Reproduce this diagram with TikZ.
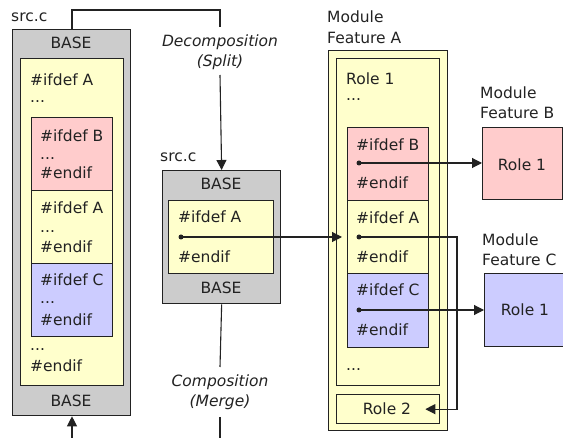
\documentclass[tikz,border=0pt]{standalone}
\usepackage{fontspec}
\setmainfont{DejaVu Sans}
\usetikzlibrary{arrows.meta}
\definecolor{basegray}{HTML}{CCCCCC}
\definecolor{featA}{HTML}{FFFFCC}
\definecolor{featB}{HTML}{FFCCCC}
\definecolor{featC}{HTML}{CCCCFF}
\definecolor{ink}{HTML}{222222}
\tikzset{
  every node/.style={font=\fontsize{15.5}{20}\selectfont, text=ink},
  box/.style={draw=ink, line width=1.3pt, inner sep=0pt, anchor=north west},
  code/.style={inner sep=0pt, anchor=base west},
  lbl/.style={inner sep=0pt, font=\fontsize{15.5}{20}\selectfont\itshape},
  wire/.style={draw=ink, line width=1.1pt},
  tip/.style={-{Triangle[length=10pt,width=10pt]}},
  dot/.style={circle, fill=ink, inner sep=0pt, minimum size=5pt},
}
\begin{document}
\begin{tikzpicture}[x=1pt,y=-1pt]
\useasboundingbox (0,0) rectangle (563,438);

% ---------- original source file ----------
\node[code] (srcL) at (11,22) {src.c};
\node[box, fill=basegray, minimum width=118pt, minimum height=386pt] (gL) at (12,29) {};
\node[inner sep=0pt] (baseLt) at (71,43) {BASE};
\node[inner sep=0pt] (baseLb) at (71,401) {BASE};
\node[box, fill=featA, minimum width=103pt, minimum height=327pt] (yL) at (20,58) {};
\node[box, fill=featB, minimum width=81pt, minimum height=73pt] (bL) at (31,117) {};
\node[box, fill=featA, minimum width=81pt, minimum height=73pt] (aL) at (31,190) {};
\node[box, fill=featC, minimum width=81pt, minimum height=73pt] (cL) at (31,263) {};
\node[code] at (30,85.5) {\#ifdef A};
\node[code] at (30,103) {...};
\node[code] at (40,141.5) {\#ifdef B};
\node[code] at (40,160) {...};
\node[code] at (40,178.5) {\#endif};
\node[code] at (40,213.5) {\#ifdef A};
\node[code] at (40,233) {...};
\node[code] at (40,252.5) {\#endif};
\node[code] at (40,285.5) {\#ifdef C};
\node[code] at (40,304) {...};
\node[code] at (40,325.5) {\#endif};
\node[code] at (30,351) {...};
\node[code] at (30,371.5) {\#endif};

% ---------- extracted fragment ----------
\node[code] (srcM) at (160,162) {src.c};
\node[box, fill=basegray, minimum width=118pt, minimum height=133pt] (gM) at (162,170) {};
\node[inner sep=0pt] at (221,184) {BASE};
\node[inner sep=0pt] at (221,288) {BASE};
\node[box, fill=featA, minimum width=105pt, minimum height=73pt] (aM) at (168,200) {};
\node[code] at (178,222.5) {\#ifdef A};
\node[code] at (178,262.5) {\#endif};
\node[dot] (dM) at (181,237) {};

% ---------- feature module A ----------
\node[code] at (327,22.5) {Module};
\node[code] at (327,43.5) {Feature A};
\node[box, fill=featA, minimum width=119pt, minimum height=380pt] (modA) at (328,50) {};
\node[box, fill=featA, minimum width=103pt, minimum height=327pt] (role1) at (336,58) {};
\node[code] at (346,84.5) {Role 1};
\node[code] at (346,101) {...};
\node[box, fill=featB, minimum width=81pt, minimum height=73pt] (bR) at (347,127) {};
\node[box, fill=featA, minimum width=81pt, minimum height=73pt] (aR) at (347,200) {};
\node[box, fill=featC, minimum width=81pt, minimum height=74pt] (cR) at (347,273) {};
\node[code] at (356,150.5) {\#ifdef B};
\node[code] at (356,188.5) {\#endif};
\node[code] at (356,223.5) {\#ifdef A};
\node[code] at (356,262.5) {\#endif};
\node[code] at (356,295.5) {\#ifdef C};
\node[code] at (356,335.5) {\#endif};
\node[code] at (346,371) {...};
\node[box, fill=featA, minimum width=103pt, minimum height=29pt] (role2) at (336,394) {};
\node[inner sep=0pt] at (387,409) {Role 2};
\node[dot] (dB) at (359,163) {};
\node[dot] (dA) at (359,237) {};
\node[dot] (dC) at (359,310) {};

% ---------- feature modules B and C ----------
\node[code] at (480,98.5) {Module};
\node[code] at (480,118.5) {Feature B};
\node[box, fill=featB, minimum width=80pt, minimum height=72pt] (modB) at (482,127) {};
\node[inner sep=0pt] at (522,165) {Role 1};
\node[code] at (482,245.5) {Module};
\node[code] at (482,265.5) {Feature C};
\node[box, fill=featC, minimum width=82pt, minimum height=73pt] (modC) at (484,273) {};
\node[inner sep=0pt] at (525,310) {Role 1};

% ---------- process labels ----------
\node[lbl] at (220,42) {Decomposition};
\node[lbl] at (220,62) {(Split)};
\node[lbl] at (220,382) {Composition};
\node[lbl] at (220,402) {(Merge)};
\coordinate (decTop) at (220,27);
\coordinate (decBot) at (220,75);
\coordinate (comTop) at (220,367);
\coordinate (comBot) at (220,417);
\coordinate (mergeOut) at (220,440);
\coordinate (mergeIn) at (72,440);
\coordinate (loopX) at (457,0);
\coordinate (role2in) at ([xshift=-15pt]role2.east);

% ---------- connectors ----------
\draw[wire] (gL.north -| mergeIn) |- (220,10) -- (decTop);
\draw[wire, tip] (decBot) -- (gM.north);
\draw[wire] (gM.south) -- (comTop);
\draw[wire] (comBot) -- (mergeOut);
\draw[wire, tip] (mergeIn) -- (gL.south -| mergeIn);
\draw[wire, tip, shorten >=5pt] (dM.center) -- (aR.west |- dM);
\draw[wire, tip] (dB.center) -- (modB.west |- dB);
\draw[wire, tip] (dC.center) -- (modC.west |- dC);
\draw[wire, tip] (dA.center) -- (dA -| loopX) |- (role2in);
\end{tikzpicture}
\end{document}
